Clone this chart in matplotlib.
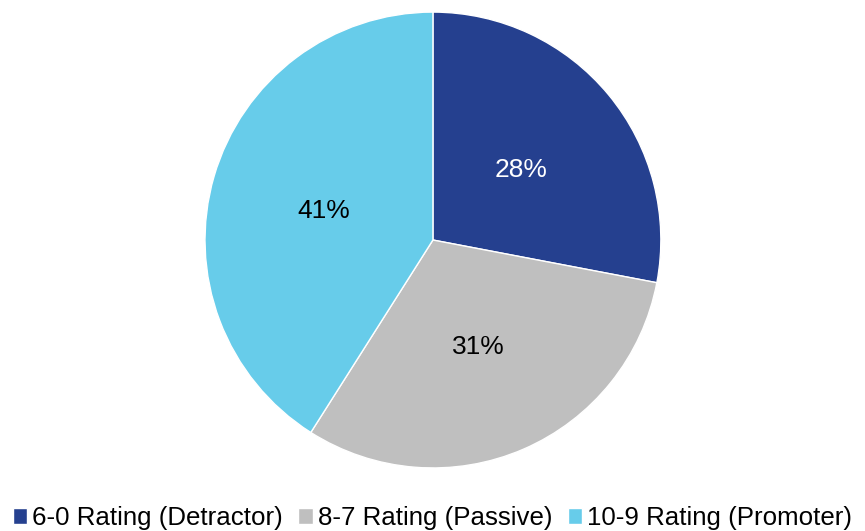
import matplotlib
matplotlib.use("Agg")
import matplotlib.pyplot as plt

# slice data, clockwise from 12 o'clock
labels = ["6-0 Rating (Detractor)", "8-7 Rating (Passive)", "10-9 Rating (Promoter)"]
shares = [28, 31, 41]
colors = ["#25408F", "#BFBFBF", "#67CCEA"]
text_colors = ["white", "black", "black"]

plt.rcParams["font.family"] = ["Liberation Sans", "DejaVu Sans"]

fig = plt.figure(figsize=(8.65, 5.31), dpi=100)
ax = fig.add_axes([0.237, 0.1186, 0.527, 0.8588])

wedges, texts, autotexts = ax.pie(
    shares, colors=colors, startangle=90, counterclock=False,
    autopct="%d%%", pctdistance=0.5,
    wedgeprops=dict(edgecolor="white", linewidth=1),
    textprops=dict(fontsize=19),
)
for t, c in zip(autotexts, text_colors):
    t.set_color(c)
    t.set_va("center_baseline")
ax.set_xlim(-1.0, 1.0)
ax.set_ylim(-1.0, 1.0)
ax.set_aspect("equal")

fig.legend(wedges, labels, loc="center", bbox_to_anchor=(0.5, 0.024),
           ncol=3, frameon=False, fontsize=18.6,
           handlelength=0.55, handleheight=0.55, handletextpad=0.2,
           columnspacing=0.6, borderpad=0)

fig.savefig("out.png", dpi=100)
